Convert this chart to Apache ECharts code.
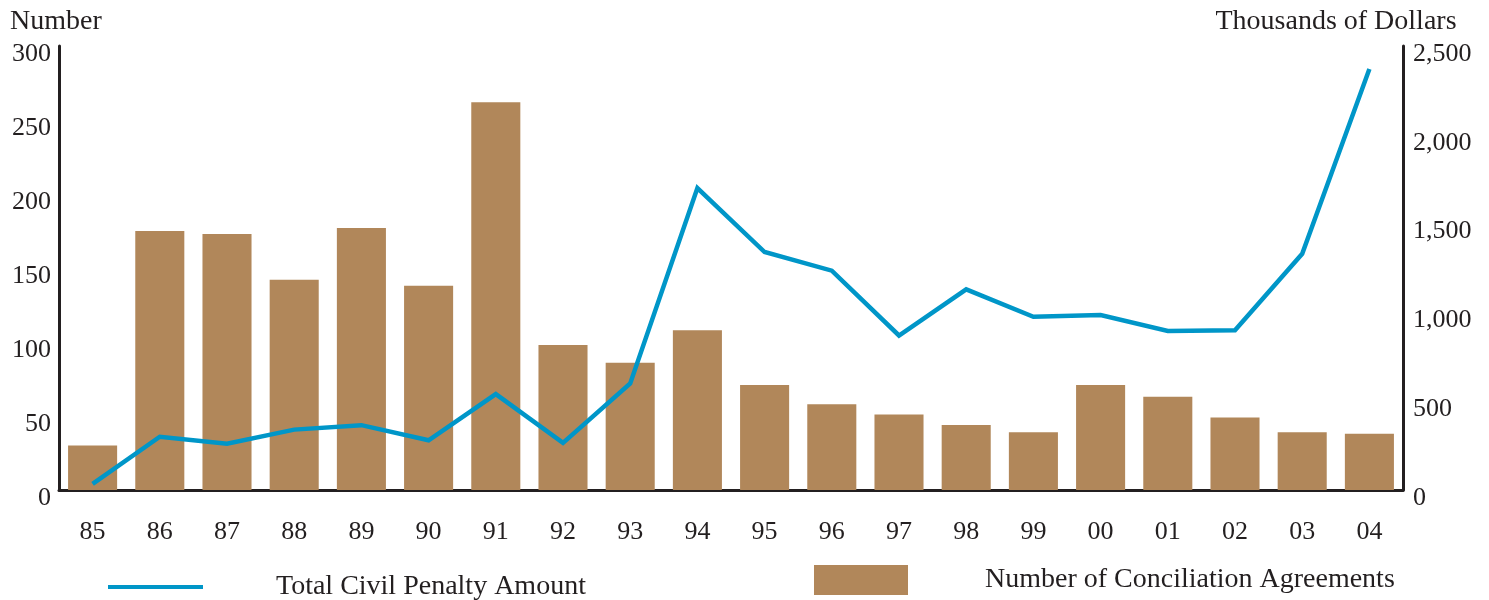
<!DOCTYPE html>
<html>
<head>
<meta charset="utf-8">
<script src="https://cdn.jsdelivr.net/npm/echarts@6/dist/echarts.min.js"></script>
<style>html,body{margin:0;padding:0;background:#fff;}#c{width:1489px;height:600px;}</style>
</head>
<body>
<div id="c"></div>
<script>
var years = ['85','86','87','88','89','90','91','92','93','94','95','96','97','98','99','00','01','02','03','04'];
var agreements = [30,175,173,142,177,138,262,98,86,108,71,58,51,44,39,71,63,49,39,38];
var penalty = [35,300,260,340,365,280,540,265,600,1700,1340,1235,870,1130,975,985,895,900,1330,2370];
var leftTicks = [0,50,100,150,200,250,300];
var rightTicks = [0,500,1000,1500,2000,2500];

var FONT = '"Liberation Serif", "Times New Roman", serif';
var INK = '#231f20';
var LINE = '#0096c8';
var BAR = '#b1875a';

var chart = echarts.init(document.getElementById('c'));
chart.setOption({
  animation: false,
  backgroundColor: '#fff',
  grid: { left: 59, right: 86, top: 46, bottom: 110, containLabel: false },
  legend: [
    {
      left: 108, top: 573, padding: 0, icon: 'rect', itemWidth: 95, itemHeight: 4,
      data: [{ name: 'Total Civil Penalty Amount', itemStyle: { color: LINE } }],
      textStyle: { fontFamily: FONT, fontSize: 28, color: INK, padding: [0,0,0,68] }
    },
    {
      left: 814, top: 565, padding: 0, icon: 'rect', itemWidth: 94, itemHeight: 30,
      data: [{ name: 'Number of Conciliation Agreements', itemStyle: { color: BAR } }],
      textStyle: { fontFamily: FONT, fontSize: 28, color: INK, padding: [0,0,0,72] }
    }
  ],
  xAxis: {
    type: 'category',
    data: years,
    axisLine: { lineStyle: { color: INK, width: 3 } },
    axisTick: { show: false },
    axisLabel: { fontFamily: FONT, fontSize: 26, color: INK, margin: 29 }
  },
  yAxis: [
    {
      type: 'value', min: 0, max: 300, interval: 50,
      name: 'Number', nameLocation: 'end', nameGap: 10,
      nameTextStyle: { fontFamily: FONT, fontSize: 28, color: INK, align: 'center', padding: [0, 6, 0, 0] },
      axisLine: { show: true, lineStyle: { color: INK, width: 3 } },
      axisTick: { show: false },
      splitLine: { show: false },
      axisLabel: {
        fontFamily: FONT, fontSize: 26, color: INK, margin: 8,
        verticalAlign: 'top', lineHeight: 16,
        formatter: function (v) { return leftTicks.indexOf(v) >= 0 ? String(v) : ''; }
      }
    },
    {
      type: 'value', min: 0, max: 2500, interval: 500, position: 'right',
      name: 'Thousands of Dollars', nameLocation: 'end', nameGap: 10,
      nameTextStyle: { fontFamily: FONT, fontSize: 28, color: INK, align: 'center', padding: [0, 134, 0, 0] },
      axisLine: { show: true, lineStyle: { color: INK, width: 3 } },
      axisTick: { show: false },
      splitLine: { show: false },
      axisLabel: {
        fontFamily: FONT, fontSize: 26, color: INK, margin: 10,
        verticalAlign: 'top', lineHeight: 16,
        formatter: function (v) { return rightTicks.indexOf(v) >= 0 ? v.toLocaleString('en-US') : ''; }
      }
    }
  ],
  series: [
    {
      name: 'Number of Conciliation Agreements',
      type: 'bar', yAxisIndex: 0, data: agreements,
      barCategoryGap: '27%',
      itemStyle: { color: BAR },
      z: 2
    },
    {
      name: 'Total Civil Penalty Amount',
      type: 'line', yAxisIndex: 1, data: penalty,
      showSymbol: false, symbol: 'none',
      lineStyle: { color: LINE, width: 4.5, join: 'miter' },
      itemStyle: { color: LINE },
      z: 3
    }
  ]
});
</script>
</body>
</html>
